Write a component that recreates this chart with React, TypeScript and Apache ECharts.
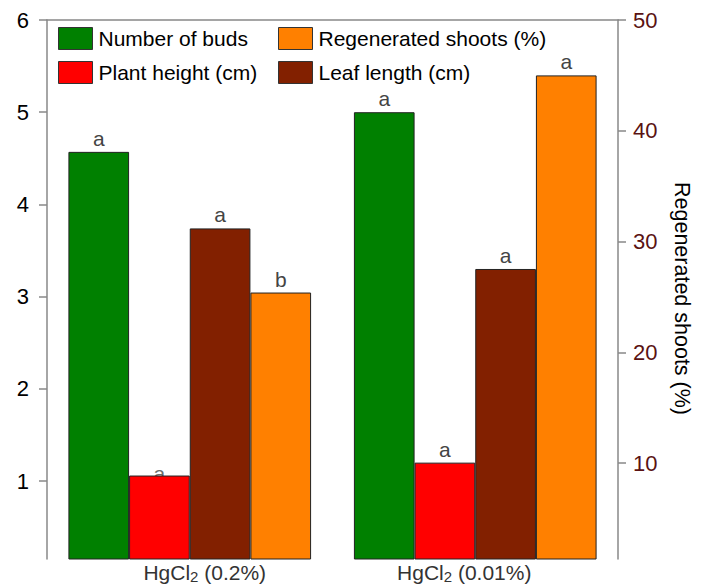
import React, { useEffect, useRef } from "react";
import * as echarts from "echarts";

const categories = ["HgCl2 (0.2%)", "HgCl2 (0.01%)"];
const categoryRich = ["{l|HgCl}{s|2}{a| (0.2%)}", "{a|HgCl}{s|2}{r| (0.01%)}"];
const numberOfBuds = [4.57, 5.0];
const plantHeight = [1.06, 1.2];
const leafLength = [3.74, 3.3];
const regeneratedShoots = [25.4, 45.0];
const budsLetters = ["a", "a"];
const heightLetters = ["", "a"];
const hiddenHeightLetter = ["a", ""];
const leafLetters = ["a", "a"];
const shootLetters = ["b", "a"];
const leftTicks = [1, 2, 3, 4, 5, 6];
const rightTicks = [10, 20, 30, 40, 50];

const FONT = "'Liberation Sans', Arial, sans-serif";

export default function App() {
  const ref = useRef<HTMLDivElement>(null);
  useEffect(() => {
    if (!ref.current) return;
    const chart = echarts.init(ref.current, undefined, { renderer: "svg" });
    const mkLabel = (letters: string[]) => ({
      show: true,
      position: "top" as const,
      distance: 3,
      color: "#444",
      fontSize: 21,
      fontFamily: FONT,
      formatter: (p: any) => letters[p.dataIndex],
    });
    const mkSeries = (name: string, data: number[], color: string, letters: string[], yIdx: number) => ({
      name,
      type: "bar",
      data,
      z: 3,
      yAxisIndex: yIdx,
      xAxisIndex: 0,
      barGap: "0%",
      barCategoryGap: "15%",
      itemStyle: { color, borderColor: "#222", borderWidth: 1 },
      label: mkLabel(letters),
    });
    const axisLineStyle = { color: "#888", width: 1.5 };
    const legendCommon = {
      orient: "vertical",
      top: 27,
      padding: 0,
      icon: "rect",
      itemWidth: 34,
      itemHeight: 22,
      itemGap: 11,
      textStyle: { fontSize: 21, color: "#000", fontFamily: FONT, padding: [0, 0, 0, 1] },
      itemStyle: { borderColor: "#333", borderWidth: 1 },
    };
    const txt = { fontSize: 21, color: "#333", fontFamily: FONT };
    chart.setOption({
      animation: false,
      textStyle: { fontFamily: FONT },
      grid: { left: 47, right: 88, top: 20, bottom: 24, containLabel: false },
      legend: [
        { ...legendCommon, left: 58, data: ["Number of buds", "Plant height (cm)"] },
        { ...legendCommon, left: 278, data: ["Regenerated shoots (%)", "Leaf length (cm)"] },
      ],
      xAxis: [
        {
          type: "category",
          data: categories,
          position: "bottom",
          axisLine: { show: false },
          axisTick: { show: false },
          axisLabel: {
            margin: 1,
            formatter: (_v: string, i: number) => categoryRich[i],
            rich: {
              a: { ...txt },
              l: { ...txt, padding: [0, 0, 0, 30] },
              r: { ...txt, padding: [0, 22, 0, 0] },
              s: { fontSize: 15, color: "#333", fontFamily: FONT, verticalAlign: "bottom", padding: [9, 0, 0, 0] },
            },
          },
        },
        {
          type: "category",
          data: categories,
          position: "top",
          axisLine: { show: true, lineStyle: axisLineStyle },
          axisTick: { show: false },
          axisLabel: { show: false },
        },
      ],
      yAxis: [
        {
          type: "value",
          position: "left",
          min: 0.155,
          max: 6,
          axisLine: { show: true, lineStyle: axisLineStyle },
          axisTick: { show: true, length: 8, lineStyle: axisLineStyle, customValues: leftTicks },
          axisLabel: { fontSize: 22, color: "#000", margin: 18, fontFamily: FONT, customValues: leftTicks },
          splitLine: { show: false },
        },
        {
          type: "value",
          position: "right",
          min: 1.35,
          max: 50,
          name: "Regenerated shoots (%)",
          nameLocation: "middle",
          nameRotate: -90,
          nameGap: 53,
          nameTextStyle: { fontSize: 21.5, color: "#000", fontFamily: FONT, padding: [0, 0, 0, 18] },
          axisLine: { show: true, lineStyle: axisLineStyle },
          axisTick: { show: true, length: 8, lineStyle: axisLineStyle, customValues: rightTicks },
          axisLabel: { fontSize: 22, color: "#5a1212", margin: 15, fontFamily: FONT, customValues: rightTicks },
          splitLine: { show: false },
        },
      ],
      series: [
        mkSeries("Number of buds", numberOfBuds, "#008000", budsLetters, 0),
        mkSeries("Plant height (cm)", plantHeight, "#ff0000", heightLetters, 0),
        mkSeries("Leaf length (cm)", leafLength, "#822000", leafLetters, 0),
        mkSeries("Regenerated shoots (%)", regeneratedShoots, "#ff8000", shootLetters, 1),
        {
          name: "hidden-letter",
          type: "scatter",
          z: 1,
          xAxisIndex: 0,
          yAxisIndex: 0,
          symbolSize: 0,
          silent: true,
          data: plantHeight.map((v, i) => (hiddenHeightLetter[i] ? [i, v] : null)).filter(Boolean),
          label: {
            show: true,
            position: "top",
            distance: 0,
            offset: [-30.5, 8],
            color: "#444",
            fontSize: 21,
            fontFamily: FONT,
            formatter: () => hiddenHeightLetter[0],
          },
        },
      ],
    });
    return () => chart.dispose();
  }, []);
  return (
    <div
      ref={ref}
      style={{ position: "fixed", left: 0, top: 0, width: 706, height: 584, background: "#fff" }}
    />
  );
}
